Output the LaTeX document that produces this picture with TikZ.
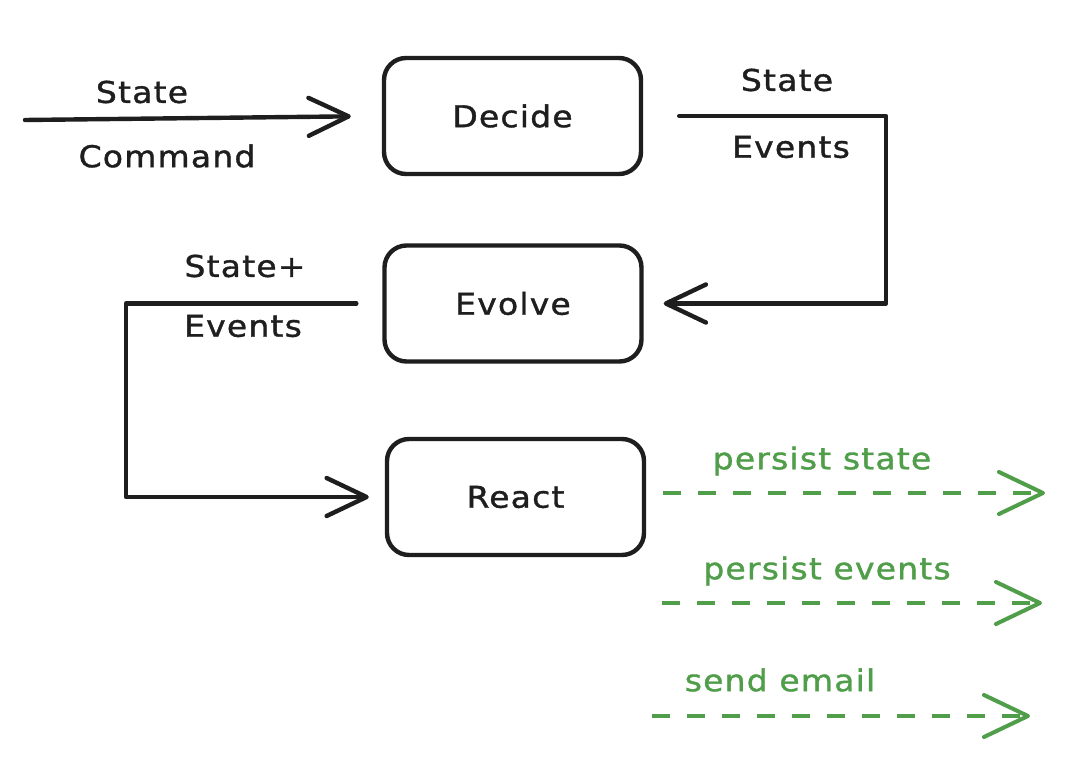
\documentclass[tikz,border=0pt]{standalone}
\usepackage{fontspec}
\setmainfont{DejaVu Sans}[FakeStretch=1.1,LetterSpace=4,FakeBold=1.2]
\usetikzlibrary{arrows.meta}
\definecolor{ink}{HTML}{1E1E1E}
\definecolor{grn}{RGB}{80,158,74}
\tikzset{
  box/.style={draw=ink, line width=4.4pt, rounded corners=22pt, minimum width=257pt, minimum height=116pt, inner sep=0pt, text=ink, font=\fontsize{30}{36}\selectfont},
  lbl/.style={text=ink, inner sep=0pt, font=\fontsize{30}{36}\selectfont},
  glbl/.style={text=grn, inner sep=0pt, font=\fontsize{30}{36}\selectfont},
  conn/.style={draw=ink, line width=4.4pt, line cap=round, line join=round},
  arr/.style={conn, -{Straight Barb[length=40pt,width=38pt,round]}},
  garr/.style={draw=grn, line width=4pt, dash pattern=on 18pt off 17pt, -{Straight Barb[length=44pt,width=42pt,round]}}
}
\begin{document}
\begin{tikzpicture}[x=1pt,y=-1pt]
\useasboundingbox[fill=white] (0,0) rectangle (1070,778);
\node[box] (decide) at (512.5,116) {Decide};
\node[box] (evolve) at (513,303.5) {Evolve};
\node[box] (react) at (515.5,497) {React};
% input arrow
\coordinate (in) at (25,120);
\draw[arr, shorten >=31pt] (in) -- (decide.west);
\node[lbl] (lstate1) at (142,92) {State};
\node[lbl] (lcmd) at (167,156) {Command};
% decide -> evolve
\coordinate (c2) at (886,116);
\draw[arr, shorten <=36pt, shorten >=20pt] (decide.east) -- (c2) |- (evolve.east);
\node[lbl] (lstate2) at (787,80) {State};
\node[lbl] (lev2) at (791,147) {Events};
% evolve -> react
\coordinate (c3) at (126,497);
\draw[arr, shorten <=26pt, shorten >=16pt] (evolve.west) -| (c3) -- (react.west);
\node[lbl] (lstate3) at (245,266) {State+};
\node[lbl] (lev3) at (243,326) {Events};
% green outputs
\coordinate (g1e) at (1045,493);
\coordinate (g2s) at (662,603);
\coordinate (g2e) at (1042,603);
\coordinate (g3s) at (652,716);
\coordinate (g3e) at (1030,716);
\draw[garr, shorten <=17pt] (react.east |- g1e) -- (g1e);
\draw[garr] (g2s) -- (g2e);
\draw[garr] (g3s) -- (g3e);
\node[glbl] (gl1) at (822,461) {persist state};
\node[glbl] (gl2) at (827,571) {persist events};
\node[glbl] (gl3) at (780,680) {send email};
\end{tikzpicture}
\end{document}
